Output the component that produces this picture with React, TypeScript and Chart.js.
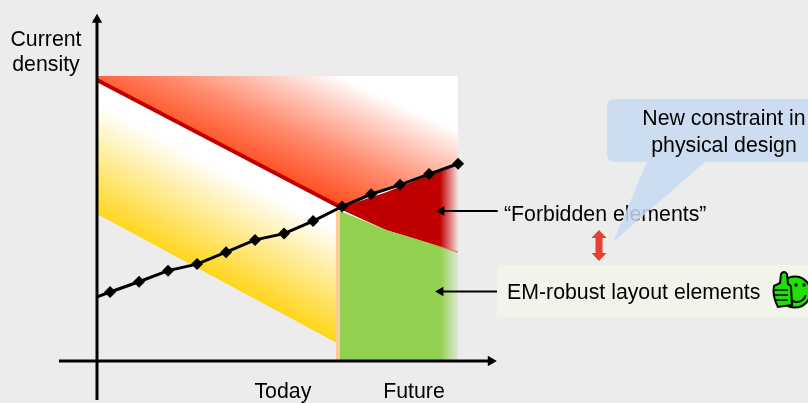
import React, { useEffect, useRef } from "react";
import { Chart, registerables } from "chart.js";

Chart.register(...registerables);

const FONT = '"Liberation Sans", Arial, sans-serif';
const PAGE_BG = "#ECECEC";
const DARK_RED = "#C00000";
const GREEN = "#92D050";

// Technology time on x, current density on y (arbitrary units).
const timeTicks = [6.41, 10.93];
const timeTickLabels = ["Today", "Future"];

const densityTime = [0, 0.45, 1.45, 2.45, 3.45, 4.45, 5.45, 6.45, 7.45, 8.45, 9.45, 10.45, 11.45, 12.45];
const densityValue = [22.5, 24.2, 27.8, 31.7, 34, 38.2, 42.5, 44.7, 49.1, 54.2, 58.5, 61.8, 65.6, 69.2];

const ceilingTime = [0, 12.45];
const ceilingValue = [100, 100];

const limitTime = [0, 8.45];
const limitValue = [98.6, 53.7];

const redBoundTime = [0, 8.45, 9.45, 10.45, 11.45, 12.45];
const redBoundValue = [98.6, 54, 58.5, 61.8, 65.6, 69.2];

const baseBoundTime = [0, 8.38, 9.97, 12.45];
const baseBoundValue = [98.6, 52.6, 46, 38.2];

const yellowTime = [0, 8.28];
const yellowTop = [98.6, 54.2];
const yellowBottom = [51.6, 6.3];

const stripTime = [8.31, 8.31];
const stripValue = [52.6, 0];

const forbiddenTime = [8.45, 9.97, 12.45];
const forbiddenLow = [53, 46, 38.2];
const forbiddenHigh = [54, 59.2, 69.2];

const robustTime = [8.38, 9.97, 12.45];
const robustTop = [52.6, 46, 38.2];

const pairs = (xs: number[], ys: number[]) => xs.map((x, i) => ({ x, y: ys[i] }));

const span = (
  ctx: any,
  x0: number,
  y0: number,
  x1: number,
  y1: number,
  stops: [number, string][],
) => {
  const { chart } = ctx;
  if (!chart.chartArea) return stops[0][1];
  const sx = chart.scales.x;
  const sy = chart.scales.y;
  const g = chart.ctx.createLinearGradient(
    sx.getPixelForValue(x0),
    sy.getPixelForValue(y0),
    sx.getPixelForValue(x1),
    sy.getPixelForValue(y1),
  );
  stops.forEach(([o, c]) => g.addColorStop(o, c));
  return g;
};

const quiet = { pointRadius: 0, borderWidth: 0, showLine: true, fill: false, clip: false as const };

const arrowLine = (
  xs: number[],
  ys: number[],
  width: number,
  head: number,
  rotation: number,
) => ({
  data: pairs(xs, ys),
  showLine: true,
  fill: false,
  clip: false as const,
  borderColor: "#000",
  backgroundColor: "#000",
  borderWidth: width,
  pointStyle: "triangle",
  pointRotation: rotation,
  pointBorderWidth: 0,
  pointRadius: (c: any) => (c.dataIndex === 1 ? head : 0),
});

function overlay() {
  return {
    id: "slideNotes",
    afterDatasetsDraw(chart: any) {
      const c = chart.ctx as CanvasRenderingContext2D;
      c.save();
      c.fillStyle = "#F1F4E9";
      c.fillRect(497, 265, 311, 52);

      c.fillStyle = "#000";
      c.textBaseline = "middle";
      c.font = `21.3px ${FONT}`;
      c.textAlign = "center";
      c.fillText("Current", 46, 40);
      c.fillText("density", 46, 65);
      c.textAlign = "left";
      c.fillText("\u201CForbidden elements\u201D", 504, 215);
      c.fillText("EM-robust layout elements", 507, 293);

      // Red double-headed arrow between the two classes of elements.
      c.fillStyle = "#E8402E";
      c.beginPath();
      c.moveTo(599, 230);
      c.lineTo(606.5, 238);
      c.lineTo(602.5, 238);
      c.lineTo(602.5, 253);
      c.lineTo(606.5, 253);
      c.lineTo(599, 261);
      c.lineTo(591.5, 253);
      c.lineTo(595.5, 253);
      c.lineTo(595.5, 238);
      c.lineTo(591.5, 238);
      c.closePath();
      c.fill();

      // Speech bubble, see-through so the label under its tail still shows.
      c.fillStyle = "rgba(200,219,242,0.85)";
      c.beginPath();
      c.moveTo(615, 99);
      c.lineTo(816, 99);
      c.lineTo(816, 162);
      c.lineTo(705, 162);
      c.lineTo(613, 242);
      c.lineTo(647, 162);
      c.lineTo(615, 162);
      c.quadraticCurveTo(607, 162, 607, 154);
      c.lineTo(607, 107);
      c.quadraticCurveTo(607, 99, 615, 99);
      c.closePath();
      c.fill();

      c.fillStyle = "#000";
      c.textAlign = "center";
      c.fillText("New constraint in", 724, 119);
      c.fillText("physical design", 724, 146);

      // Thumbs-up smiley.
      c.lineWidth = 2;
      c.strokeStyle = "#000";
      c.fillStyle = "#1FE000";
      c.beginPath();
      c.arc(795, 292, 15.5, 0, Math.PI * 2);
      c.fill();
      c.stroke();
      c.beginPath();
      c.moveTo(780, 283);
      c.lineTo(781, 274);
      c.quadraticCurveTo(784, 270, 787, 274);
      c.lineTo(788, 284);
      c.lineTo(791, 286);
      c.lineTo(792, 305);
      c.lineTo(778, 307);
      c.quadraticCurveTo(772, 296, 774, 286);
      c.closePath();
      c.fill();
      c.stroke();
      c.lineWidth = 1.5;
      [290, 295, 300].forEach((y) => {
        c.beginPath();
        c.moveTo(775, y);
        c.lineTo(788, y);
        c.stroke();
      });
      c.fillStyle = "#000";
      c.beginPath();
      c.arc(796, 285, 1.7, 0, Math.PI * 2);
      c.arc(804, 285, 1.7, 0, Math.PI * 2);
      c.fill();
      c.lineWidth = 2;
      c.beginPath();
      c.arc(797, 293, 9, 0.25, 2.3);
      c.stroke();
      c.restore();
    },
  };
}

export default function App() {
  const ref = useRef<HTMLCanvasElement | null>(null);

  useEffect(() => {
    document.body.style.margin = "0";
    document.body.style.background = PAGE_BG;

    const layers: any[] = [
      // 0: lower edge of the white slab
      { ...quiet, data: pairs(baseBoundTime, baseBoundValue) },
      // 1: lower edge of the red zone
      { ...quiet, data: pairs(redBoundTime, redBoundValue) },
      // 2: white slab
      {
        ...quiet,
        data: pairs(ceilingTime, ceilingValue),
        fill: { target: 0 },
        backgroundColor: "#FFFFFF",
      },
      // 3: red zone, fading to white away from the limit line
      {
        ...quiet,
        data: pairs(ceilingTime, ceilingValue),
        fill: { target: 1 },
        backgroundColor: (c: any) =>
          span(c, 8.45, 53.7, 10.14, 91.6, [
            [0, "#FF4D20"],
            [0.4, "#FF8A6C"],
            [0.78, "#FFD2C8"],
            [1, "#FFFFFF"],
          ]),
      },
      // 4: lower edge of the yellow band
      { ...quiet, data: pairs(yellowTime, yellowBottom) },
      // 5: yellow band
      {
        ...quiet,
        data: pairs(yellowTime, yellowTop),
        fill: { target: 4 },
        backgroundColor: (c: any) =>
          span(c, 8.28, 6.3, 10.17, 43, [
            [0, "#FFD519"],
            [0.85, "#FFFFFF"],
            [1, "#FFFFFF"],
          ]),
      },
      // 6: today marker strip
      {
        ...quiet,
        data: pairs(stripTime, stripValue),
        borderWidth: 4,
        borderColor: "#FFC993",
      },
      // 7: lower edge of the forbidden wedge
      { ...quiet, data: pairs(forbiddenTime, forbiddenLow) },
      // 8: forbidden wedge
      {
        ...quiet,
        data: pairs(forbiddenTime, forbiddenHigh),
        fill: { target: 7 },
        backgroundColor: (c: any) =>
          span(c, 11.83, 0, 12.45, 0, [
            [0, DARK_RED],
            [1, "rgba(192,0,0,0.12)"],
          ]),
      },
      // 9: robust area, down to the time axis, with a faint red seam at the far end
      {
        ...quiet,
        data: pairs(robustTime, robustTop),
        fill: "origin",
        backgroundColor: (c: any) =>
          span(c, 11.83, 0, 12.45, 0, [
            [0, GREEN],
            [1, "rgba(146,208,80,0.15)"],
          ]),
        borderWidth: 1,
        borderColor: (c: any) =>
          span(c, 11.4, 0, 12.45, 0, [
            [0, "rgba(230,50,50,0)"],
            [1, "rgba(230,50,50,0.9)"],
          ]),
      },
      // 10: current limit line
      {
        ...quiet,
        data: pairs(limitTime, limitValue),
        borderWidth: 4,
        borderColor: DARK_RED,
        borderCapStyle: "butt",
      },
      // 11: density trend
      {
        data: pairs(densityTime, densityValue),
        showLine: true,
        fill: false,
        clip: false,
        borderColor: "#000",
        backgroundColor: "#000",
        borderWidth: 3,
        pointStyle: "rectRot",
        pointBorderWidth: 0,
        pointRadius: (c: any) => (c.dataIndex === 0 ? 0 : 6),
      },
      // 12-15: axes and leader arrows
      arrowLine([-1.31, 13.58], [0, 0], 3, 6, 90),
      arrowLine([0, 0], [-13.7, 119.7], 3, 6, 0),
      arrowLine([13.82, 11.88], [52.6, 52.6], 2, 5.5, -90),
      arrowLine([13.8, 11.85], [24.4, 24.4], 2, 5.5, -90),
    ];
    layers.forEach((l, i) => {
      l.order = layers.length - i;
    });

    const chart = new Chart(ref.current as HTMLCanvasElement, {
      type: "scatter",
      data: { datasets: layers },
      plugins: [overlay()],
      options: {
        animation: false,
        responsive: false,
        events: [],
        layout: { padding: 0, autoPadding: false },
        elements: { line: { tension: 0 } },
        plugins: { legend: { display: false }, title: { display: false }, tooltip: { enabled: false } },
        scales: {
          x: {
            type: "linear",
            min: -97 / 29,
            max: 711 / 29,
            grid: { display: false },
            border: { display: false },
            afterBuildTicks: (s: any) => {
              s.ticks = timeTicks.map((value) => ({ value }));
            },
            afterFit: (s: any) => {
              s.height = 42;
            },
            ticks: {
              autoSkip: false,
              maxRotation: 0,
              padding: 10,
              color: "#000",
              font: { family: FONT, size: 21.3 },
              callback: (_v: any, i: number) => timeTickLabels[i],
            },
          },
          y: {
            display: false,
            min: 0,
            max: 361 / 2.85,
          },
        },
      } as any,
    });
    return () => chart.destroy();
  }, []);

  return <canvas ref={ref} width={808} height={403} style={{ display: "block" }} />;
}
